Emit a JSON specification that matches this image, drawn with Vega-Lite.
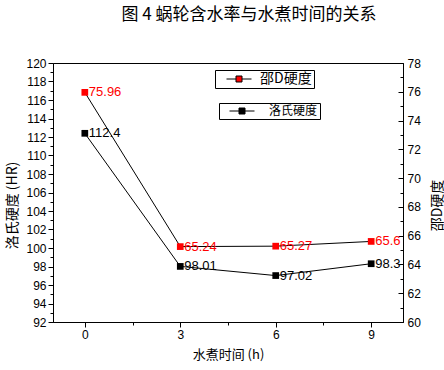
{
  "$schema": "https://vega.github.io/schema/vega-lite/v6.json",
  "width": 350,
  "height": 259,
  "autosize": {"type": "none"},
  "padding": {"left": 53, "top": 63, "right": 41, "bottom": 48},
  "background": "white",
  "title": {
    "text": "图 4 蜗轮含水率与水煮时间的关系",
    "font": "Noto Sans CJK SC",
    "fontSize": 17,
    "fontWeight": "normal",
    "color": "black",
    "anchor": "middle",
    "dx": 21,
    "offset": 33
  },
  "config": {
    "view": {"stroke": "black", "strokeWidth": 1},
    "axis": {
      "grid": false,
      "domainColor": "black",
      "tickColor": "black",
      "labelColor": "black",
      "labelFont": "Liberation Sans",
      "labelFontSize": 12,
      "titleFont": "Noto Sans CJK SC",
      "titleFontWeight": "normal",
      "titleColor": "black",
      "titleFontSize": 14
    }
  },
  "datasets": {
    "shore": [
      {"t": 0, "series": "邵D硬度", "value": 75.96},
      {"t": 3, "series": "邵D硬度", "value": 65.24},
      {"t": 6, "series": "邵D硬度", "value": 65.27},
      {"t": 9, "series": "邵D硬度", "value": 65.6}
    ],
    "rock": [
      {"t": 0, "series": "洛氏硬度", "value": 112.4},
      {"t": 3, "series": "洛氏硬度", "value": 98.01},
      {"t": 6, "series": "洛氏硬度", "value": 97.02},
      {"t": 9, "series": "洛氏硬度", "value": 98.3}
    ]
  },
  "layer": [
    {
      "data": {"name": "rock"},
      "mark": {"type": "line", "color": "black", "strokeWidth": 1},
      "encoding": {
        "x": {"field": "t", "type": "quantitative", "scale": {"domain": [-1, 10], "nice": false, "zero": false},
          "axis": {"orient": "bottom", "values": [0, 3, 6, 9], "tickSize": 5, "labelPadding": 2, "title": "水煮时间 (h)", "titleFontSize": 13, "titlePadding": 8}},
        "y": {"field": "value", "type": "quantitative", "scale": {"domain": [92, 120], "nice": false, "zero": false},
          "axis": {"orient": "left", "values": [92, 94, 96, 98, 100, 102, 104, 106, 108, 110, 112, 114, 116, 118, 120], "tickSize": 5, "labelPadding": 2, "title": "洛氏硬度 (HR)", "titleX": -41, "titleY": 142, "titleBaseline": "middle", "titleAlign": "center", "titleAngle": 270}}
      }
    },
    {
      "data": {"name": "rock"},
      "mark": {"type": "point", "opacity": 0},
      "encoding": {
        "x": {"field": "t", "type": "quantitative", "scale": {"domain": [-1, 10], "nice": false, "zero": false},
          "axis": {"orient": "bottom", "values": [1.5, 4.5, 7.5], "tickSize": 3, "labels": false, "domain": false, "title": null}},
        "y": {"field": "value", "type": "quantitative", "scale": {"domain": [92, 120], "nice": false, "zero": false},
          "axis": {"orient": "left", "values": [93, 95, 97, 99, 101, 103, 105, 107, 109, 111, 113, 115, 117, 119], "tickSize": 3, "labels": false, "domain": false, "title": null}}
      }
    },
    {
      "data": {"name": "rock"},
      "mark": {"type": "point", "shape": "square", "filled": true, "size": 45, "opacity": 1},
      "encoding": {
        "x": {"field": "t", "type": "quantitative", "scale": {"domain": [-1, 10], "nice": false, "zero": false}, "axis": null},
        "y": {"field": "value", "type": "quantitative", "scale": {"domain": [92, 120], "nice": false, "zero": false}, "axis": null},
        "color": {"field": "series", "type": "nominal", "scale": {"domain": ["洛氏硬度"], "range": ["black"]},
          "legend": {"orient": "none", "legendX": 166, "legendY": 40, "title": null, "strokeColor": "black", "padding": 2,
            "symbolType": "M-2.5,0H-0.6M0.6,0H2.5M-0.6,-0.6H0.6V0.6H-0.6Z", "symbolSize": 100, "symbolOffset": 15, "labelOffset": 21,
            "symbolStrokeColor": "black", "symbolStrokeWidth": 1,
            "labelFont": "Noto Sans CJK SC", "labelFontSize": 12, "labelColor": "black",
            "encode": {"symbols": {"update": {"stroke": {"value": "black"}, "strokeWidth": {"value": 1}}}}}}
      }
    },
    {
      "data": {"name": "rock"},
      "mark": {"type": "text", "align": "left", "baseline": "middle", "dx": 4, "font": "Liberation Sans", "fontSize": 13, "color": "black"},
      "encoding": {
        "x": {"field": "t", "type": "quantitative", "scale": {"domain": [-1, 10], "nice": false, "zero": false}, "axis": null},
        "y": {"field": "value", "type": "quantitative", "scale": {"domain": [92, 120], "nice": false, "zero": false}, "axis": null},
        "text": {"field": "value", "type": "nominal"}
      }
    },
    {
      "data": {"name": "shore"},
      "mark": {"type": "line", "color": "black", "strokeWidth": 1},
      "encoding": {
        "x": {"field": "t", "type": "quantitative", "scale": {"domain": [-1, 10], "nice": false, "zero": false}, "axis": null},
        "y": {"field": "value", "type": "quantitative", "scale": {"domain": [60, 78], "nice": false, "zero": false},
          "axis": {"orient": "right", "values": [60, 62, 64, 66, 68, 70, 72, 74, 76, 78], "tickSize": -5, "labelPadding": 9, "title": "邵D硬度", "titleAngle": 270, "titleX": 34, "titleY": 142, "titleBaseline": "middle", "titleAlign": "center"}}
      }
    },
    {
      "data": {"name": "shore"},
      "mark": {"type": "point", "opacity": 0},
      "encoding": {
        "x": {"field": "t", "type": "quantitative", "scale": {"domain": [-1, 10], "nice": false, "zero": false}, "axis": null},
        "y": {"field": "value", "type": "quantitative", "scale": {"domain": [60, 78], "nice": false, "zero": false},
          "axis": {"orient": "right", "values": [61, 63, 65, 67, 69, 71, 73, 75, 77], "tickSize": -3, "labels": false, "domain": false, "title": null}}
      }
    },
    {
      "data": {"name": "shore"},
      "mark": {"type": "point", "shape": "square", "filled": true, "size": 45, "opacity": 1},
      "encoding": {
        "x": {"field": "t", "type": "quantitative", "scale": {"domain": [-1, 10], "nice": false, "zero": false}, "axis": null},
        "y": {"field": "value", "type": "quantitative", "scale": {"domain": [60, 78], "nice": false, "zero": false}, "axis": null},
        "color": {"field": "series", "type": "nominal", "scale": {"domain": ["邵D硬度"], "range": ["red"]},
          "legend": {"orient": "none", "legendX": 162, "legendY": 7, "title": null, "strokeColor": "black", "padding": 2,
            "symbolType": "M-2.5,0H-0.6M0.6,0H2.5M-0.6,-0.6H0.6V0.6H-0.6Z", "symbolSize": 100, "symbolOffset": 15, "labelOffset": 14,
            "symbolStrokeColor": "black", "symbolStrokeWidth": 1,
            "labelFont": "Noto Sans CJK SC", "labelFontSize": 14, "labelColor": "black",
            "encode": {"symbols": {"update": {"stroke": {"value": "black"}, "strokeWidth": {"value": 1}}}}}}
      }
    },
    {
      "data": {"name": "shore"},
      "mark": {"type": "text", "align": "left", "baseline": "middle", "dx": 4, "font": "Liberation Sans", "fontSize": 13, "color": "red"},
      "encoding": {
        "x": {"field": "t", "type": "quantitative", "scale": {"domain": [-1, 10], "nice": false, "zero": false}, "axis": null},
        "y": {"field": "value", "type": "quantitative", "scale": {"domain": [60, 78], "nice": false, "zero": false}, "axis": null},
        "text": {"field": "value", "type": "nominal"}
      }
    }
  ],
  "resolve": {
    "scale": {"x": "independent", "y": "independent", "color": "independent"},
    "axis": {"x": "independent", "y": "independent"}
  }
}
